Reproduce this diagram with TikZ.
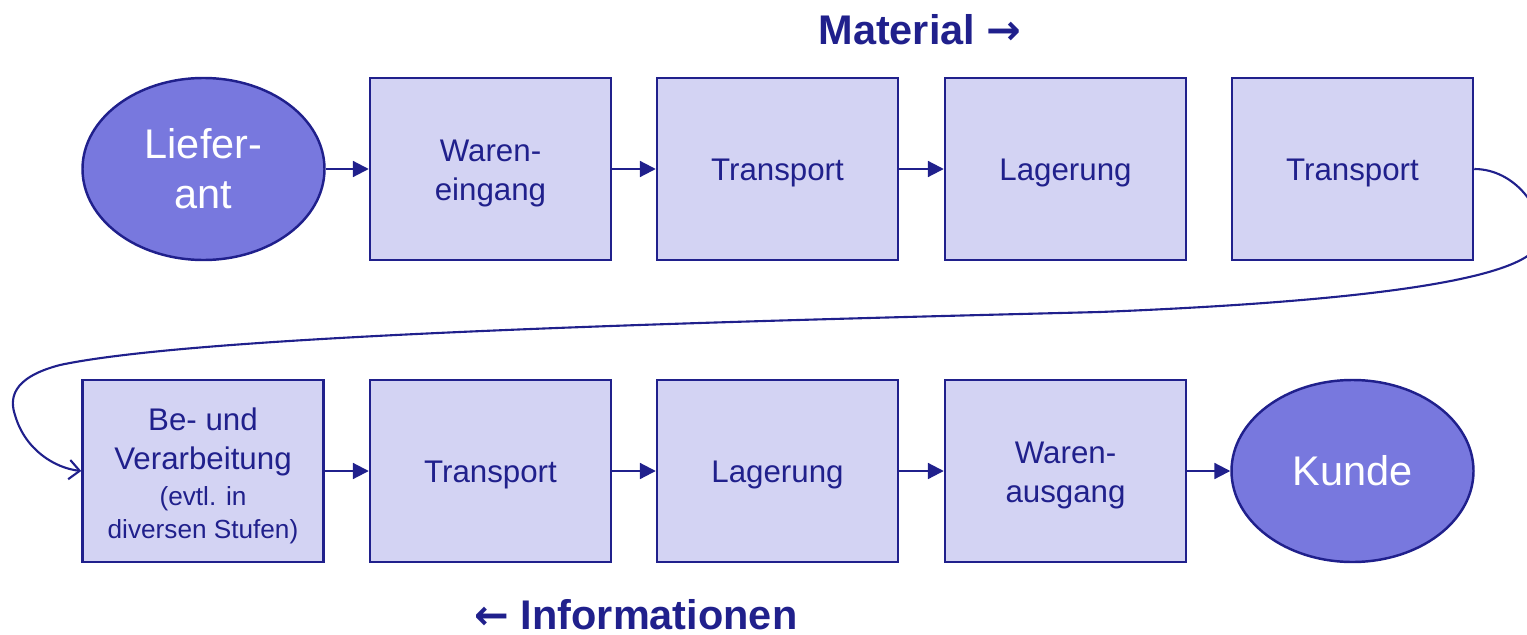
\documentclass[tikz,border=0pt]{standalone}
\usepackage{fontspec}
\setmainfont{Liberation Sans}
\newfontfamily\arrowfont{DejaVu Sans}
\usetikzlibrary{arrows.meta,shapes.geometric}
\definecolor{dblue}{HTML}{20208C}
\definecolor{boxfill}{HTML}{D3D3F3}
\definecolor{ellfill}{HTML}{7878DE}
\newcommand{\lowr}[1]{\raisebox{-2.2pt}[\height][\depth]{#1}}
\tikzset{
  stepbox/.style={draw=dblue, line width=1.4pt, fill=boxfill, minimum width=241*0.02cm, minimum height=182*0.02cm, inner sep=0pt, text=dblue, align=center, font=\fontsize{17.8}{22.2}\selectfont},
  endpoint/.style={ellipse, draw=dblue, line width=1.4pt, fill=ellfill, minimum width=242*0.02cm, minimum height=182*0.02cm, inner sep=0pt, text=white, align=center, font=\fontsize{23.6}{28.5}\selectfont},
  flow/.style={draw=dblue, line width=1.2pt, -{Triangle[length=9pt,width=9pt]}},
  title/.style={text=dblue, inner sep=0pt, font=\fontsize{23.6}{28}\selectfont\bfseries}
}
\begin{document}
\begin{tikzpicture}[x=0.02cm,y=-0.02cm]
\useasboundingbox (0,0) rectangle (1527,635);
\node[endpoint] (l) at (203.5,169) {Liefer-\\ant};
\node[stepbox] (b1) at (490.5,169) {\rule{0pt}{17.5pt}Waren-\\eingang};
\node[stepbox] (b2) at (777.5,169) {\lowr{Transport}};
\node[stepbox] (b3) at (1065.5,169) {\lowr{Lagerung}};
\node[stepbox] (b4) at (1352.5,169) {\lowr{Transport}};
\node[stepbox] (c1) at (203,471) {\rule{0pt}{18.7pt}Be- und\\Verarbeitung\\[-2pt]{\fontsize{14.9}{17}\selectfont (evtl. in}\\[-3pt]{\fontsize{14.9}{17}\selectfont diversen Stufen)}};
\node[stepbox] (c2) at (490.5,471) {\lowr{Transport}};
\node[stepbox] (c3) at (777.5,471) {\lowr{Lagerung}};
\node[stepbox] (c4) at (1065.5,471) {\rule{0pt}{17.5pt}Waren-\\ausgang};
\node[endpoint] (k) at (1352.5,471) {Kunde};
\node[title] (mat) at (920,30) {Material {\arrowfont\bfseries →}};
\node[title] (inf) at (636,615) {{\arrowfont\bfseries ←} Informationen};
\draw[flow] (l) -- (b1);
\draw[flow] (b1) -- (b2);
\draw[flow] (b2) -- (b3);
\draw[flow] (c1) -- (c2);
\draw[flow] (c2) -- (c3);
\draw[flow] (c3) -- (c4);
\draw[flow] (c4) -- (k);
\draw[draw=dblue, line width=1.2pt, -{Straight Barb[length=6pt,width=11pt]}]
  (b4.east) .. controls (1515,169) and (1545,210) .. (1540,240)
  .. controls (1535,275) and (1400,300) .. (1100,312)
  .. controls (700,322) and (200,335) .. (60,365)
  .. controls (10,378) and (10,400) .. (15,415)
  .. controls (25,450) and (55,468) .. (c1.west);
\end{tikzpicture}
\end{document}
